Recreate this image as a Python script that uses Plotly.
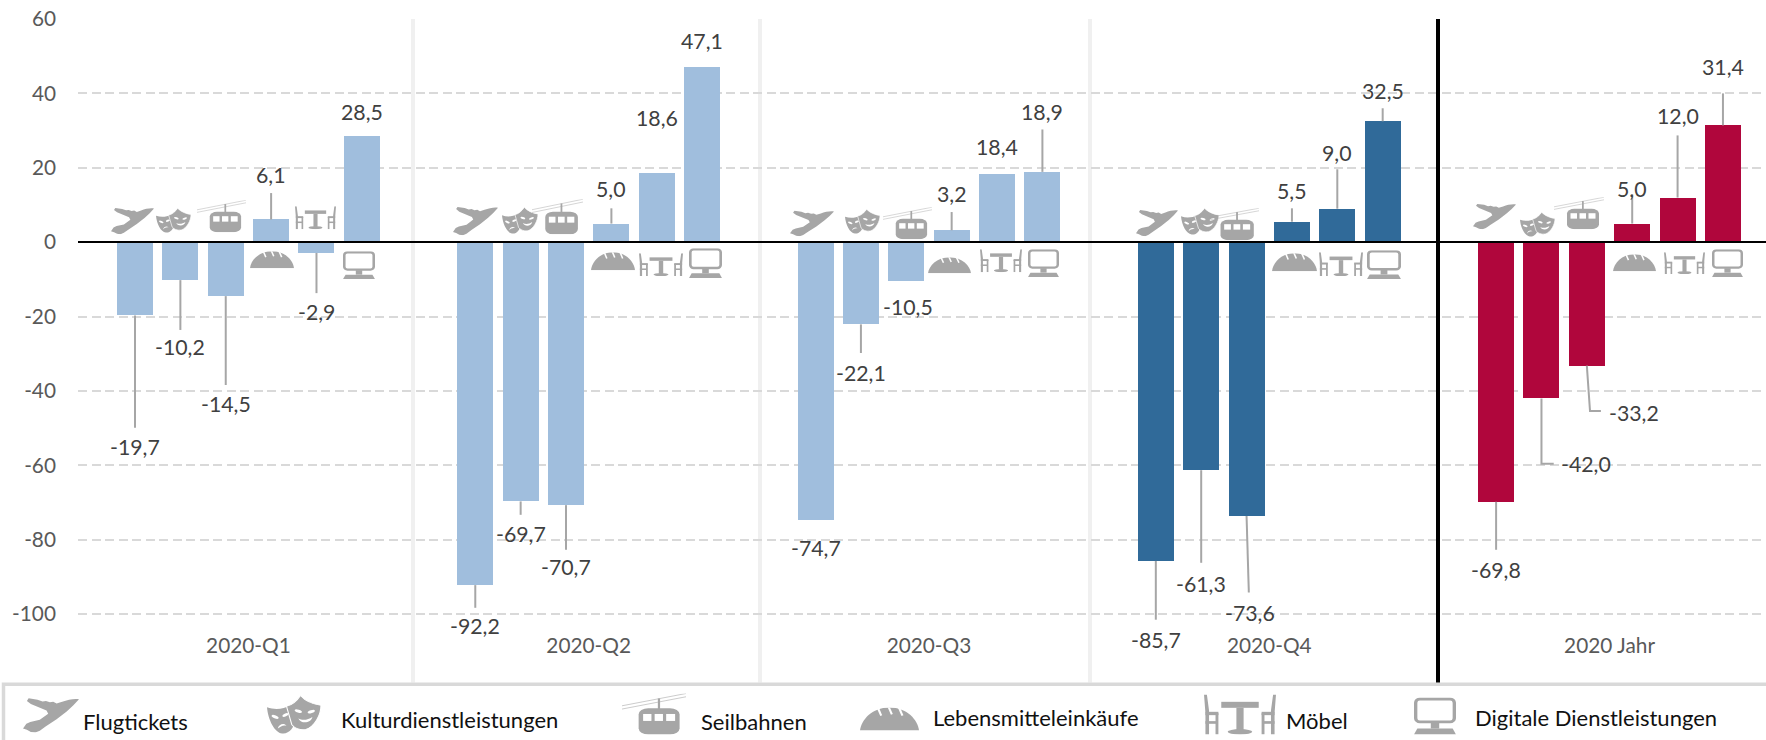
import base64
import plotly.graph_objects as go

# ---------- data ----------
products = ["Flugtickets", "Kulturdienstleistungen", "Seilbahnen",
            "Lebensmitteleinkäufe", "Möbel", "Digitale Dienstleistungen"]
periods = ["2020-Q1", "2020-Q2", "2020-Q3", "2020-Q4", "2020 Jahr"]
values_q1 = [-19.7, -10.2, -14.5, 6.1, -2.9, 28.5]
values_q2 = [-92.2, -69.7, -70.7, 5.0, 18.6, 47.1]
values_q3 = [-74.7, -22.1, -10.5, 3.2, 18.4, 18.9]
values_q4 = [-85.7, -61.3, -73.6, 5.5, 9.0, 32.5]
values_year = [-69.8, -42.0, -33.2, 5.0, 12.0, 31.4]
y_ticks = [-100, -80, -60, -40, -20, 0, 20, 40, 60]
y_tick_labels = ["-100", "-80", "-60", "-40", "-20", "0", "20", "40", "60"]

# ---------- styling / placement ----------
all_values = [values_q1, values_q2, values_q3, values_q4, values_year]
period_colors = ["#A0BEDD", "#A0BEDD", "#A0BEDD", "#306A99", "#B0063C"]
GROUP_STEP = 7.5
LABEL_TEXT = "#404040"
FONT = "Lato"
FS = 20.8
FS_LABEL = 21.3
FS_LEGEND = 22

# leader line far end (axis units), None = no leader
leader_ends = [
    [-49.9, -23.6, -38.4, 13.2, -13.7, None],
    [-98.3, -73.3, -82.7, 9.1, None, None],
    [None, -29.8, None, 8.1, None, 30.3],
    [-101.5, -86.2, -94.2, 9.1, 19.6, 36.0],
    [-82.7, -59.9, -45.4, 12.9, 28.7, 40.0],
]
# label offset from bar end in pixels (dx right, dy down)
label_dy = [
    [131.6, 67, 108, -44.7, 59, -24.3],
    [40.6, 32.4, 62.3, -34.4, -54.7, -26],
    [28.2, 48.7, 26, -36, -26.5, -59.9],
    [78.8, 113.7, 96.8, -30.5, -55.5, -30],
    [68.7, 65.5, 47, -34.4, -81.3, -58.5],
]
label_dx = [
    [0, 0, 0, 0, 0, 0],
    [0, 0, 0, 0, 0, 0],
    [0, 0, 2, 0, 0, 0],
    [0, 0, 3, 0, 0, 0],
    [0, 45, 47.5, 0, 0, 0],
]
# extra leader bends: (period, product) -> list of (slot offset, axis value)
leader_bends = {
    (4, 1): [(0, -59.6), (0.27, -59.6)],
    (4, 2): [(0.07, -45.4), (0.31, -45.4)],
    (3, 2): [(0.05, -94.2)],
}

# plot geometry in page pixels
W, H = 1766, 740
L, T, B = 78.0, 18.5, 629.4
R = W
PW, PH = R - L, B - T


def px(x):
    return (x - L) / PW


def py(y):
    return 1 - (y - T) / PH


# ---------- icons ----------
G = "#A6A6A6"
SVG_HEAD = '<svg xmlns="http://www.w3.org/2000/svg" viewBox="0 0 100 {h}" preserveAspectRatio="none">'


def svg_uri(h, body):
    s = SVG_HEAD.format(h=h) + body + "</svg>"
    return "data:image/svg+xml;base64," + base64.b64encode(s.encode()).decode()


icon_plane = svg_uri(80, f'<path fill="{G}" d="M100 4C92 2 80 5 70 10L60 14L54 10L48 11L41 8L35 9L26 5L10 2L7 8L14 15L42 30L45 37L30 51L13 56L6 60L0 71L7 74L14 79L22 80L30 76L41 66L60 50L78 32L90 18Z"/>')
icon_masks = svg_uri(80, f'''<path fill="{G}" d="M0 24C15 30 30 28 44 20L52 48C52 66 40 80 28 78C14 76 2 50 0 24Z"/>
<path fill="{G}" stroke="#fff" stroke-width="2" d="M36 22C46 20 56 10 62 0C70 10 84 18 100 20C100 40 88 64 72 70C60 72 50 66 46 60Z"/>
<g fill="#fff"><ellipse cx="15" cy="44" rx="7" ry="3" transform="rotate(25 15 44)"/><ellipse cx="34" cy="40" rx="6" ry="3" transform="rotate(-25 34 40)"/>
<path d="M20 68C22 58 32 56 36 62C30 60 25 63 20 68Z"/>
<ellipse cx="58" cy="32" rx="7" ry="3" transform="rotate(20 58 32)"/><ellipse cx="82" cy="33" rx="7" ry="3" transform="rotate(-20 82 33)"/>
<path d="M58 47C66 52 76 50 84 44C82 56 64 60 58 47Z"/></g>''')
icon_gondola = svg_uri(100, f'''<g stroke="{G}" stroke-width="1.1" fill="none"><path d="M0 30L100 0"/><path d="M0 38L100 8"/></g>
<rect x="56" y="12" width="3.5" height="28" fill="{G}"/>
<rect x="26" y="36" width="64" height="64" rx="15" fill="{G}"/>
<g fill="#fff"><rect x="33" y="50" width="13" height="17"/><rect x="51" y="50" width="13" height="17"/><rect x="69" y="50" width="14" height="17"/></g>''')
icon_bread = svg_uri(40, f'''<path fill="{G}" d="M0 40C2 22 20 0 50 0C80 0 98 22 100 40Z"/>
<g stroke="#fff" stroke-width="3.5" fill="none"><path d="M30 0L36 14"/><path d="M48 -2L54 12"/><path d="M66 0L72 14"/></g>''')
icon_furniture = svg_uri(60, f'''<g fill="{G}"><path d="M0 0L4 0L7 24L7 60L2 60L2 28Z"/><rect x="2" y="26" width="18" height="5"/><rect x="16" y="28" width="4" height="32"/><rect x="2" y="40" width="16" height="4"/>
<path d="M100 0L96 0L93 24L93 60L98 60L98 28Z"/><rect x="80" y="26" width="18" height="5"/><rect x="80" y="28" width="4" height="32"/><rect x="82" y="40" width="16" height="4"/>
<rect x="24" y="11" width="52" height="9"/><rect x="45" y="20" width="10" height="34"/><ellipse cx="50" cy="56" rx="17" ry="4"/></g>''')
icon_monitor = svg_uri(100, f'''<rect x="4" y="4" width="92" height="62" rx="10" fill="#fff" stroke="{G}" stroke-width="8"/>
<rect x="40" y="68" width="20" height="16" fill="{G}"/><path fill="{G}" d="M8 84L92 84L100 100L0 100Z"/>''')
icons = [icon_plane, icon_masks, icon_gondola, icon_bread, icon_furniture, icon_monitor]

# icon boxes in page pixels (x0, x1, y0, y1), per group and product
icon_boxes = [
    [(111, 154, 207, 234), (156, 191, 208, 233), (197, 246, 200, 232), (250, 294, 251, 268), (295, 336, 206, 229), (343, 375, 251, 279)],
    [(453, 498, 206, 235), (502, 538, 207, 234), (532, 583, 199, 234), (591, 635, 252, 270), (639, 683, 253, 276), (689, 722, 248, 278)],
    [(790, 834, 210, 236), (845, 880, 209, 234), (883, 932, 207, 239), (928, 971, 257, 273), (980, 1022, 249, 272), (1028, 1059, 249, 277)],
    [(1136, 1178, 209, 236), (1181, 1219, 208, 235), (1207, 1259, 208, 240), (1272, 1317, 253, 271), (1319, 1363, 252, 276), (1367, 1401, 250, 279)],
    [(1473, 1516, 203, 229), (1520, 1555, 212, 237), (1554, 1604, 197, 229), (1613, 1656, 254, 271), (1664, 1705, 252, 274), (1712, 1743, 249, 277)],
]
legend_icon_boxes = [(23, 79, 698, 733), (267, 321, 696, 735), (622, 686, 694, 735),
                     (860, 919, 708, 731), (1204, 1276, 695, 735), (1414, 1456, 698, 735)]
legend_text_pos = [(81, 722), (338.5, 720), (699, 722), (931, 718.5), (1284, 721.5), (1473, 718)]
separators = [413, 760, 1090]
year_separator = 1438

# ---------- figure ----------
fig = go.Figure()

slots, vals, cols = [], [], []
for g, series in enumerate(all_values):
    for i, v in enumerate(series):
        slots.append(GROUP_STEP * g + i)
        vals.append(v)
        cols.append(period_colors[g])

fig.add_bar(x=slots, y=vals, width=0.794, marker=dict(color=cols, line=dict(width=0)),
            hoverinfo="skip", showlegend=False)

lx, ly = [], []
for g, series in enumerate(all_values):
    for i, v in enumerate(series):
        end = leader_ends[g][i]
        if end is None:
            continue
        s = GROUP_STEP * g + i
        bends = leader_bends.get((g, i))
        lx.append(s)
        ly.append(v)
        if bends:
            for dxs, yy in bends:
                lx.append(s + dxs)
                ly.append(yy)
        else:
            lx.append(s)
            ly.append(end)
        lx.append(None)
        ly.append(None)
fig.add_scatter(x=lx, y=ly, mode="lines", line=dict(color="#A6A6A6", width=2),
                hoverinfo="skip", showlegend=False)

annotations = []
for g, series in enumerate(all_values):
    for i, v in enumerate(series):
        annotations.append(dict(
            x=GROUP_STEP * g + i, y=v, xref="x", yref="y", showarrow=False,
            text=f"{v:.1f}".replace(".", ","), xshift=label_dx[g][i], yshift=-label_dy[g][i],
            font=dict(family=FONT, size=FS_LABEL, color=LABEL_TEXT),
            xanchor="center", yanchor="middle"))
for name, (tx, ty) in zip(products, legend_text_pos):
    annotations.append(dict(
        x=px(tx), y=py(ty), xref="paper", yref="paper", showarrow=False, text=name,
        font=dict(family=FONT, size=FS_LEGEND, color="#111111"), xanchor="left", yanchor="middle"))

images = []
for group in icon_boxes:
    for src, (x0, x1, y0, y1) in zip(icons, group):
        images.append(dict(source=src, xref="paper", yref="paper", x=px(x0), y=py(y0),
                           sizex=(x1 - x0) / PW, sizey=(y1 - y0) / PH, sizing="stretch",
                           xanchor="left", yanchor="top", layer="above"))
for src, (x0, x1, y0, y1) in zip(icons, legend_icon_boxes):
    images.append(dict(source=src, xref="paper", yref="paper", x=px(x0), y=py(y0),
                       sizex=(x1 - x0) / PW, sizey=(y1 - y0) / PH, sizing="stretch",
                       xanchor="left", yanchor="top", layer="above"))

shapes = []
for sx in separators:
    shapes.append(dict(type="line", xref="paper", yref="paper", x0=px(sx), x1=px(sx), y0=1, y1=py(683),
                       line=dict(color="#F0F0F0", width=4), layer="below"))
shapes.append(dict(type="line", xref="paper", yref="paper", x0=px(year_separator), x1=px(year_separator),
                   y0=1, y1=py(683), line=dict(color="#000000", width=4), layer="above"))
shapes.append(dict(type="rect", xref="paper", yref="paper", x0=px(3.5), x1=px(1800), y0=py(684.7), y1=py(770),
                   line=dict(color="#D9D9D9", width=3.5), fillcolor="rgba(0,0,0,0)", layer="below"))

fig.update_layout(
    width=W, height=H, margin=dict(l=L, r=0, t=T, b=H - B, pad=0, autoexpand=False),
    paper_bgcolor="white", plot_bgcolor="white", showlegend=False, bargap=0,
    font=dict(family=FONT, size=FS, color="#595959"),
    annotations=annotations, images=images, shapes=shapes,
    xaxis=dict(range=[(L - 135) / 45.37, (R - 135) / 45.37],
               tickmode="array", tickvals=[GROUP_STEP * g + 2.5 for g in range(5)], ticktext=periods,
               showgrid=False, zeroline=False, showline=False, ticks="",
               tickfont=dict(family=FONT, size=FS, color="#595959"), automargin=False, ticklabelstandoff=2),
    yaxis=dict(range=[-104, 60], tickmode="array", tickvals=y_ticks, ticktext=y_tick_labels,
               showgrid=True, gridcolor="#D9D9D9", griddash="9px,4.5px", gridwidth=1.5,
               zeroline=True, zerolinecolor="#000000", zerolinewidth=2, zerolinelayer="above traces",
               showline=False, ticks="", tickfont=dict(family=FONT, size=FS, color="#595959"),
               automargin=False, ticklabelstandoff=21),
)

fig.write_html("out.html", config=dict(displayModeBar=False),
               post_script="document.body.style.margin='0';document.documentElement.style.overflow='hidden';")
